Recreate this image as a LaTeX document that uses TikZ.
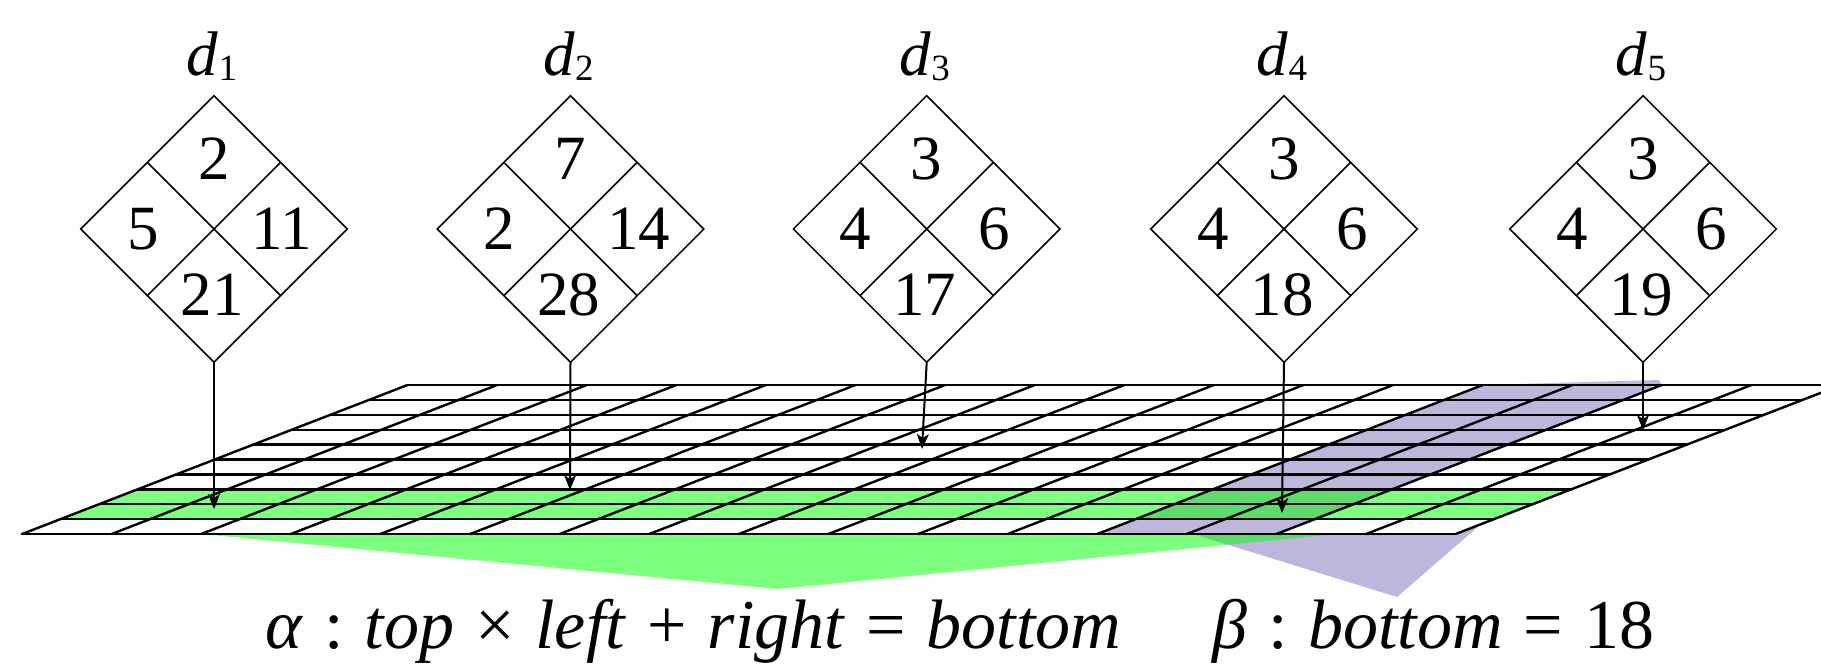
\documentclass[tikz,border=0pt]{standalone}
\usepackage{fontspec}
\setmainfont{Liberation Serif}
\usetikzlibrary{arrows.meta,shapes.geometric,calc}
\definecolor{purp}{RGB}{191,182,219}
\begin{document}
\begin{tikzpicture}[x=1pt,y=-1pt,
  dia/.style={diamond, draw, line width=1.5pt, minimum width=266.6pt, minimum height=266.6pt, inner sep=0pt, outer sep=0pt},
  crossln/.style={line width=1.5pt},
  gridln/.style={line width=2.4pt, line cap=round},
  num/.style={font=\fontsize{63}{63}\selectfont, inner sep=0pt},
  lbl/.style={font=\fontsize{63}{63}\selectfont, inner sep=0pt, anchor=base},
  arr/.style={-{Stealth[length=15pt,width=12pt,inset=4pt]}, line width=2pt},
  btxt/.style={font=\fontsize{70}{75}\selectfont, inner sep=0pt, anchor=base west},
]
\useasboundingbox (0,0) rectangle (1821,665);
\clip (0,0) rectangle (1821,665);
% ---- highlight triangles (under the grid)
\fill[purp] (1193,534) -- (1397,597) -- (1487,519) -- cycle;
\fill[green, fill opacity=0.5] (201,534) -- (778,589) -- (1337,534) -- cycle;
% ---- grid plane
\def\gx{22}\def\gy{534}\def\cw{89.6}\def\rh{14.9}\def\sh{38.55}
\fill[white] (\gx,\gy) -- ({\gx+16*\cw},\gy) -- ({\gx+16*\cw+10*\sh},{\gy-10*\rh}) -- ({\gx+10*\sh},{\gy-10*\rh}) -- cycle;
% purple column band
\fill[purp] ({\gx+12*\cw},\gy) -- ({\gx+14*\cw},\gy) -- ({\gx+14*\cw+10*\sh},{\gy-10*\rh}) -- ({\gx+14*\cw+10*\sh-3},{\gy-10*\rh-5}) -- ({\gx+12*\cw+10*\sh},{\gy-10*\rh}) -- cycle;
% green row band
\fill[green, fill opacity=0.5] ({\gx+\sh},{\gy-\rh}) -- ({\gx+16*\cw+\sh},{\gy-\rh}) -- ({\gx+16*\cw+3*\sh},{\gy-3*\rh}) -- ({\gx+3*\sh},{\gy-3*\rh}) -- cycle;
\foreach \j in {0,...,10}
  \draw[gridln] ({\gx+\j*\sh},{\gy-\j*\rh}) -- ({\gx+16*\cw+\j*\sh},{\gy-\j*\rh});
\foreach \i in {0,...,16}
  \draw[gridln] ({\gx+\i*\cw},\gy) -- ({\gx+\i*\cw+10*\sh},{\gy-10*\rh});
% ---- arrow targets
\coordinate (t1) at (214,509);
\coordinate (t2) at (570,490);
\coordinate (t3) at (922,449);
\coordinate (t4) at (1282,513);
\coordinate (t5) at (1643,430);
% ---- diamonds
\foreach \k/\cx/\vt/\vl/\vr/\vb in {1/214/2/5/11/21, 2/570.5/7/2/14/28, 3/926.7/3/4/6/17, 4/1284/3/4/6/18, 5/1643/3/4/6/19}{
  \node[dia] (D\k) at (\cx,229) {};
  \draw[crossln] ($(D\k.north)!0.5!(D\k.west)$) -- ($(D\k.south)!0.5!(D\k.east)$);
  \draw[crossln] ($(D\k.north)!0.5!(D\k.east)$) -- ($(D\k.south)!0.5!(D\k.west)$);
  \node[num] (T\k) at ($(D\k.center)+(0,-70)$) {\vt};
  \node[num] (L\k) at ($(D\k.center)+(-71,0)$) {\vl};
  \node[num] (R\k) at ($(D\k.center)+(68,0)$) {\vr};
  \node[num] (B\k) at ($(D\k.center)+(-2,66)$) {\vb};
  \node[lbl] (N\k) at ($(D\k.center)+(-2,-154)$) {\textit{d}\raisebox{-5pt}{\fontsize{37}{37}\selectfont\k}};
  \draw[arr] (D\k.south) -- (t\k);
}
% ---- formulas
\def\sp{\hspace{0.3em}}
\node[btxt] (alpha) at (265,648) {\textit{α}\sp:\sp\textit{top}\sp×\sp\textit{left}\sp+\sp\textit{right}\sp=\sp\textit{bottom}};
\node[btxt] (beta) at (1212,648) {\textit{β}\sp:\sp\textit{bottom}\sp=\sp18};
\end{tikzpicture}
\end{document}
